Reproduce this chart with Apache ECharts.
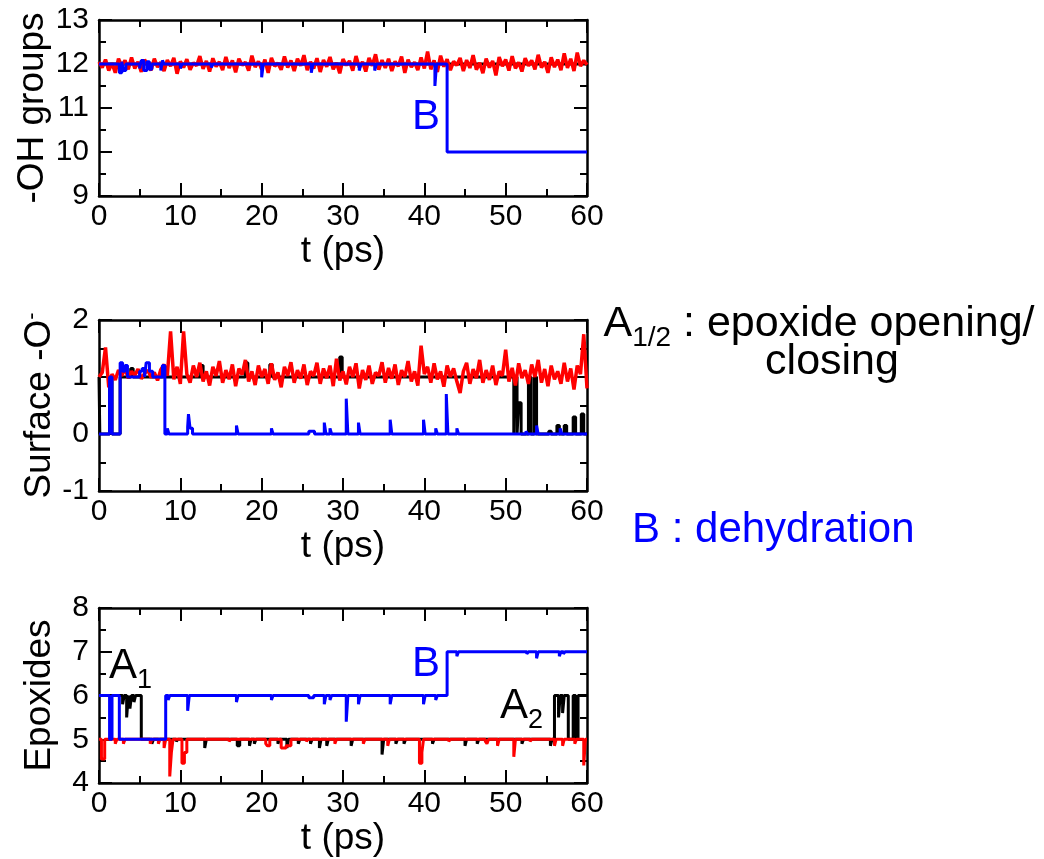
<!DOCTYPE html>
<html><head><meta charset="utf-8">
<script src="https://cdn.jsdelivr.net/npm/echarts@6/dist/echarts.min.js"></script>
<style>html,body{margin:0;padding:0;background:#fff}#c{width:1044px;height:859px}</style>
</head><body><div id="c"></div><script>
// ---------------- DATA ----------------
const xTicks = [0, 10, 20, 30, 40, 50, 60];
const panelTitles = ['-OH groups', 'Surface -O', 'Epoxides'];
const yRanges = [[9, 13], [-1, 2], [4, 8]];
const NOISE_DT = 0.4; // ps between samples of the noisy red traces

// Panel 1 (-OH groups)
const black1 = [[0, 12], [60, 12]];
const red1 = [
  12.05, 11.92, 12.10, 11.85, 12.02, 11.80, 12.12, 11.95, 12.08, 11.88,
  12.15, 11.90, 12.05, 11.82, 12.10, 11.97, 11.86, 12.12, 11.93, 12.04,
  11.84, 12.09, 11.95, 12.14, 11.78, 12.06, 11.92, 12.11, 11.87, 12.03,
  11.96, 12.18, 11.89, 12.07, 11.83, 12.13, 11.94, 12.05, 11.86, 12.16,
  11.91, 12.08, 11.81, 12.12, 11.97, 12.04, 11.85, 12.19, 11.93, 12.06,
  11.88, 12.10, 11.80, 12.14, 11.95, 12.02, 11.87, 12.17, 11.92, 12.08,
  11.84, 12.12, 11.96, 12.20, 11.86, 12.05, 11.90, 12.13, 11.82, 12.09,
  11.94, 12.16, 11.88, 12.03, 11.79, 12.11, 11.97, 12.07, 11.85, 12.18,
  11.92, 12.05, 11.83, 12.14, 11.96, 12.22, 11.87, 12.09, 11.91, 12.12,
  11.84, 12.06, 11.95, 12.17, 11.80, 12.10, 11.93, 12.04, 11.86, 12.15,
  11.90, 12.28, 11.88, 12.08, 11.82, 12.19, 11.94, 12.11, 11.86, 12.06,
  11.97, 12.14, 11.84, 12.09, 11.91, 12.20, 11.87, 12.03, 11.79, 12.12,
  11.92, 12.07, 11.74, 12.16, 11.95, 12.10, 11.85, 12.18, 11.90, 12.04,
  11.83, 12.13, 11.96, 12.08, 11.88, 12.21, 11.92, 12.05, 11.80, 12.15,
  11.93, 12.10, 11.86, 12.24, 11.91, 12.12, 11.84, 12.26, 11.95, 12.08,
  11.98
];
const blue1 = [
  [0, 12], [2.5, 11.8], [2.8, 12.05], [3.0, 11.85], [3.3, 12], [5.0, 11.9], [5.2, 12.08],
  [5.5, 11.85], [5.9, 12.05], [6.2, 11.88], [6.5, 12], [7.6, 11.85], [7.8, 12.08], [8.0, 12],
  [10.0, 11.9], [10.2, 12], [13.8, 11.92], [14.0, 12], [20.0, 11.7], [20.2, 12],
  [26.1, 11.8], [26.3, 12], [32.0, 11.85], [32.2, 12], [33.9, 11.85], [34.1, 12],
  [41.3, 11.5], [41.5, 12], [42.8, 10], [60, 10]
];

// Panel 2 (Surface -O-)
const black2 = [
  [0, 1], [0.1, 0], [1.3, 1], [1.6, 0], [2.6, 1], [3.9, 1.15], [4.2, 1], [12.5, 1.2], [12.8, 1],
  [18.0, 1.25], [18.3, 1], [21.0, 1.22], [21.3, 1], [29.6, 1.35], [29.9, 1], [51.0, 0],
  [51.1, 1], [51.4, 0], [51.6, 0.55], [51.9, 0], [52.8, 1], [53.1, 0], [53.5, 1], [53.8, 0],
  [55.3, 0.05], [55.6, 0], [56.3, 0.15], [56.6, 0], [57.2, 0.15], [57.5, 0], [58.3, 0.3],
  [58.6, 0], [59.3, 0.35], [59.6, 0], [60, 0]
];
const red2 = [
  1.00, 1.08, 1.52, 0.82, 1.05, 0.95, 1.12, 1.02, 1.15, 0.98,
  1.10, 1.03, 1.14, 0.97, 1.06, 1.12, 0.99, 1.08, 0.94, 1.13,
  1.22, 1.02, 1.80, 0.96, 1.18, 0.88, 1.80, 1.05, 0.90, 1.20,
  1.00, 1.25, 0.92, 1.10, 0.85, 1.18, 1.02, 1.28, 0.90, 1.12,
  0.96, 1.22, 0.84, 1.15, 1.04, 1.30, 0.92, 1.10, 0.86, 1.20,
  1.00, 1.14, 0.88, 1.24, 0.95, 1.08, 0.82, 1.18, 1.02, 1.26,
  0.90, 1.12, 0.97, 1.22, 0.86, 1.10, 1.02, 1.25, 0.88, 1.15,
  0.98, 1.20, 0.84, 1.32, 0.94, 1.10, 0.87, 1.18, 1.00, 1.24,
  0.80, 1.12, 0.95, 1.20, 0.88, 1.08, 1.02, 1.26, 0.90, 1.16,
  0.97, 1.22, 0.86, 1.12, 1.00, 1.28, 0.92, 1.10, 0.85, 1.55,
  1.05, 1.18, 0.90, 1.24, 0.96, 1.10, 0.83, 1.20, 1.00, 1.15,
  0.92, 0.72, 1.10, 1.25, 0.88, 1.14, 0.98, 1.30, 0.90, 1.12,
  0.95, 1.20, 0.86, 1.10, 1.02, 1.48, 0.92, 1.16, 0.85, 1.24,
  0.98, 1.12, 0.88, 1.22, 1.00, 1.30, 0.90, 1.14, 0.84, 1.20,
  0.96, 1.10, 0.88, 1.25, 0.92, 1.15, 0.78, 1.20, 1.05, 1.75,
  0.80
];
const blue2 = [
  [0, 0], [1.3, 1], [1.6, 0], [2.6, 1.25], [2.9, 1.1], [3.2, 1.2], [3.5, 1.0], [5.0, 1.1],
  [5.3, 1.15], [5.6, 1.0], [5.8, 1.25], [6.2, 1.1], [6.6, 1.0], [7.8, 1.2], [8.1, 0],
  [8.4, 0.1], [8.6, 0], [10.9, 0.12], [11.0, 0.35], [11.2, 0.1], [11.5, 0], [16.9, 0.15],
  [17.1, 0], [21.2, 0.1], [21.4, 0], [25.8, 0.05], [26.5, 0], [27.7, 0.2], [27.9, 0],
  [28.4, 0.1], [28.6, 0], [30.4, 0.62], [30.6, 0], [31.9, 0.2], [32.1, 0], [35.8, 0.25],
  [36.0, 0], [39.9, 0.25], [40.1, 0], [41.4, 0.1], [41.6, 0], [42.7, 0.7], [42.9, 0],
  [44.0, 0.1], [44.2, 0], [52.5, 0.05], [52.7, 0], [53.8, 0.15], [54.0, 0], [56.7, 0.1],
  [56.9, 0], [60, 0]
];

// Panel 3 (Epoxides)
const black3 = [
  [0, 6], [2.9, 5.8], [3.1, 6], [3.4, 5.5], [3.6, 6], [3.8, 5.7], [4.0, 6], [4.3, 5.85],
  [4.5, 6], [5.2, 5], [6.5, 4.9], [6.7, 5], [9.5, 4.95], [9.7, 5], [13.0, 4.8], [13.2, 5],
  [17.0, 4.85], [17.3, 5], [18.5, 4.85], [18.7, 5], [19.1, 4.9], [19.3, 5], [22.0, 4.9],
  [22.2, 5], [23.1, 4.8], [23.3, 5], [24.5, 4.9], [24.7, 5], [26.0, 4.9], [26.2, 5],
  [27.1, 4.8], [27.3, 5], [28.0, 4.85], [28.2, 5], [31.0, 4.85], [31.2, 5], [34.8, 4.65],
  [35.0, 5], [36.5, 4.9], [36.7, 5], [37.5, 4.9], [37.7, 5], [41.0, 4.9], [41.2, 5],
  [45.0, 4.85], [45.2, 5], [46.5, 4.9], [46.7, 5], [52.0, 4.9], [52.2, 5], [55.5, 4.85],
  [55.7, 5], [56.0, 6], [56.5, 5.5], [56.7, 6], [57.0, 5.6], [57.2, 6], [57.7, 5],
  [58.3, 6], [58.6, 5], [58.9, 6], [60, 6]
];
const red3 = [
  [0, 5], [0.3, 4.55], [0.7, 5], [2.0, 4.9], [2.2, 5], [3.0, 4.9], [3.2, 5], [6.3, 4.9],
  [6.5, 5], [7.3, 4.9], [7.5, 5], [8.0, 4.8], [8.2, 5], [8.7, 4.15], [8.9, 4.7], [9.1, 5],
  [10.2, 4.45], [10.5, 4.7], [10.8, 5], [16.0, 4.95], [16.2, 5], [20.5, 4.9], [20.7, 4.85],
  [21.0, 5], [22.4, 4.8], [23.0, 4.85], [23.6, 5], [25.5, 4.95], [25.7, 5], [29.0, 4.9],
  [29.2, 5], [32.5, 4.9], [32.7, 5], [35.5, 4.85], [35.7, 5], [39.4, 4.45], [39.7, 4.7],
  [39.9, 5], [43.0, 4.95], [43.2, 5], [47.5, 4.95], [47.7, 4.9], [47.9, 5], [49.0, 4.85],
  [49.2, 5], [51.0, 4.6], [51.2, 5], [53.0, 4.95], [53.2, 5], [56.0, 4.85], [56.2, 5],
  [57.0, 4.85], [57.2, 5], [58.5, 4.9], [58.7, 5], [59.6, 4.4], [59.8, 5], [60, 5]
];
const blue3 = [
  [0, 6], [1.3, 5], [1.6, 6], [2.5, 5], [8.2, 6], [8.5, 5.9], [8.7, 6], [10.9, 5.65],
  [11.1, 6], [16.9, 5.85], [17.1, 6], [21.2, 5.9], [21.4, 6], [25.8, 5.95], [26.4, 6],
  [27.7, 5.8], [27.9, 6], [28.4, 5.9], [28.6, 6], [30.4, 5.4], [30.6, 6], [31.9, 5.8],
  [32.1, 6], [35.8, 5.8], [36.0, 6], [39.9, 5.8], [40.1, 6], [41.4, 5.9], [41.6, 6],
  [42.8, 7], [44.0, 6.9], [44.2, 7], [52.6, 6.95], [52.8, 7], [53.8, 6.85], [54.0, 7],
  [56.6, 6.9], [56.8, 7], [57.1, 6.95], [57.3, 7], [60, 7]
];

// ---------------- LAYOUT / STYLE ----------------
const FONT = '"Liberation Sans", Arial, Helvetica, sans-serif';
const grids = [
  { left: 99, top: 20, width: 488, height: 176 },
  { left: 99, top: 320, width: 488, height: 171 },
  { left: 99, top: 608, width: 488, height: 175 }
];
const yNameGaps = [44, 35, 41];
const BLACK = '#000', RED = '#ff0000', BLUE = '#0000ff';

function noiseToXY(arr) { return arr.map((v, i) => [+(i * NOISE_DT).toFixed(2), v]); }

const axisLine = { show: true, onZero: false, lineStyle: { color: BLACK, width: 2.5 } };
const axisTick = { show: true, inside: true, length: 13, lineStyle: { color: BLACK, width: 2 } };
const minorTick = { show: true, splitNumber: 2, length: 7, lineStyle: { color: BLACK, width: 2 } };

const xAxes = [], yAxes = [];
grids.forEach((g, i) => {
  xAxes.push({
    gridIndex: i, type: 'value', min: xTicks[0], max: xTicks[xTicks.length - 1], interval: 10,
    position: 'bottom', name: 't (ps)', nameLocation: 'middle', nameGap: 36,
    nameTextStyle: { fontSize: 37, color: BLACK, fontFamily: FONT },
    axisLine, axisTick, minorTick,
    axisLabel: { fontSize: 30, color: BLACK, fontFamily: FONT, margin: 6, showMinLabel: true, showMaxLabel: true },
    splitLine: { show: false }, minorSplitLine: { show: false }
  });
  xAxes.push({
    gridIndex: i, type: 'value', min: xTicks[0], max: xTicks[xTicks.length - 1], interval: 10,
    position: 'top', axisLine, axisTick, minorTick,
    axisLabel: { show: false }, splitLine: { show: false }
  });
  const r = yRanges[i];
  const nameRich = {
    n: { fontSize: 37, color: BLACK, fontFamily: FONT },
    s: { fontSize: 22, color: BLACK, fontFamily: FONT, verticalAlign: 'top' }
  };
  yAxes.push({
    gridIndex: i, type: 'value', min: r[0], max: r[1], interval: 1,
    position: 'left', name: i === 1 ? '{n|' + panelTitles[i] + '}{s|-}' : '{n|' + panelTitles[i] + '}',
    nameLocation: 'middle', nameGap: yNameGaps[i], nameRotate: 90,
    nameTextStyle: { fontSize: 37, color: BLACK, fontFamily: FONT, rich: nameRich },
    axisLine, axisTick, minorTick,
    axisLabel: { fontSize: 30, color: BLACK, fontFamily: FONT, margin: 10, showMinLabel: true, showMaxLabel: true },
    splitLine: { show: false }
  });
  yAxes.push({
    gridIndex: i, type: 'value', min: r[0], max: r[1], interval: 1,
    position: 'right', axisLine, axisTick, minorTick,
    axisLabel: { show: false }, splitLine: { show: false }
  });
});

function lineSeries(idx, data, color, step, width) {
  const s = {
    type: 'line', xAxisIndex: idx * 2, yAxisIndex: idx * 2, data,
    symbol: 'none', showSymbol: false, silent: true, animation: false,
    lineStyle: { color, width: width || 3 }, itemStyle: { color }
  };
  if (step) s.step = 'end';
  return s;
}

const series = [
  lineSeries(0, black1, BLACK, true),
  lineSeries(0, noiseToXY(red1), RED, false, 3.5),
  lineSeries(0, blue1, BLUE, true, 3),
  lineSeries(1, black2, BLACK, true),
  lineSeries(1, noiseToXY(red2), RED, false, 3.5),
  lineSeries(1, blue2, BLUE, true, 3),
  lineSeries(2, black3, BLACK, true),
  lineSeries(2, red3, RED, true),
  lineSeries(2, blue3, BLUE, true, 3)
];

// text measuring for the right-hand annotation layout
const mctx = document.createElement('canvas').getContext('2d');
function tw(str, size) { mctx.font = size + 'px ' + FONT; return mctx.measureText(str).width; }

function txt(str, x, y, size, color, align) {
  return { type: 'text', z: 100, style: { text: str, x, y, fontSize: size, fontFamily: FONT, fill: color, align: align || 'left', verticalAlign: 'middle' } };
}

const R = 43, RS = 28;
const line1Parts = ['A', '1/2', ' : epoxide opening/'];
const l1w = tw(line1Parts[0], R) + tw(line1Parts[1], RS) + tw(line1Parts[2], R);
const l1x = 819 - l1w / 2;
const graphic = [
  // in-plot annotations
  txt('B', 412, 117, 42, BLUE),
  txt('A', 109, 666, 42, BLACK),
  txt('1', 109 + tw('A', 42), 681, 27, BLACK),
  txt('B', 412, 664, 42, BLUE),
  txt('A', 500, 706, 42, BLACK),
  txt('2', 500 + tw('A', 42), 721, 27, BLACK),
  // right-hand legend text
  txt(line1Parts[0], l1x, 324, R, BLACK),
  txt(line1Parts[1], l1x + tw('A', R), 338, RS, BLACK),
  txt(line1Parts[2], l1x + tw('A', R) + tw('1/2', RS), 324, R, BLACK),
  txt('closing', 832, 362, R, BLACK, 'center'),
  txt('B : dehydration', 632, 530, 42, BLUE)
];

const chart = echarts.init(document.getElementById('c'), null, { renderer: 'canvas' });
chart.setOption({
  backgroundColor: '#fff',
  animation: false,
  grid: grids.map(g => Object.assign({ containLabel: false, outerBoundsMode: 'none' }, g)),
  xAxis: xAxes,
  yAxis: yAxes,
  series,
  graphic
});
</script></body></html>
